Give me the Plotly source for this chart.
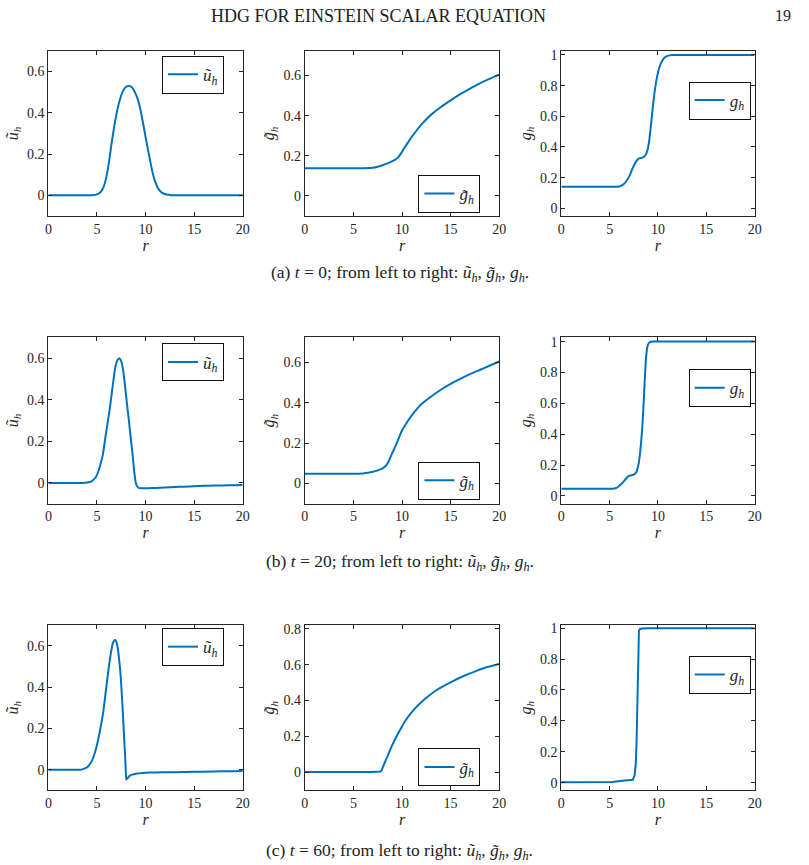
import plotly.graph_objects as go

# ---------------- data ----------------
# (a) t = 0
r_u_t0 = [0, 1, 2, 3, 3.5, 4, 4.5, 5, 5.3, 5.6, 5.9, 6.2, 6.5, 6.8, 7.1, 7.4, 7.7, 8.0, 8.3, 8.6, 8.9,
          9.2, 9.5, 9.8, 10.1, 10.4, 10.7, 11.0, 11.3, 11.6, 11.9, 12.2, 12.6, 13, 13.5, 14, 15, 16,
          17, 18, 19, 20]
u_t0 = [0, 0, 0, 0, 0, 0, 0.001, 0.005, 0.013, 0.032, 0.075, 0.15, 0.25, 0.34, 0.415, 0.47, 0.507,
        0.526, 0.53, 0.524, 0.5, 0.465, 0.41, 0.335, 0.258, 0.185, 0.115, 0.065, 0.033, 0.016, 0.008,
        0.004, 0.001, 0, 0, 0, 0, 0, 0, 0, 0, 0]

r_gt_t0 = [0, 2, 4, 6, 7, 7.5, 8, 8.5, 9, 9.3, 9.6, 9.9, 10.2, 10.5, 11, 11.5, 12, 12.5, 13, 14, 15,
           16, 17, 18, 19, 20]
gt_t0 = [0.138, 0.138, 0.138, 0.138, 0.14, 0.145, 0.153, 0.162, 0.173, 0.181, 0.192, 0.212, 0.236,
         0.258, 0.294, 0.326, 0.356, 0.382, 0.405, 0.443, 0.476, 0.507, 0.535, 0.561, 0.583, 0.604]

r_g_t0 = [0, 2, 4, 5, 5.8, 6.1, 6.4, 6.7, 7.0, 7.3, 7.6, 7.9, 8.1, 8.4, 8.7, 8.9, 9.1, 9.3, 9.5, 9.7,
          9.9, 10.1, 10.3, 10.5, 10.7, 11.0, 11.5, 12, 14, 16, 18, 20]
g_t0 = [0.14, 0.14, 0.14, 0.14, 0.141, 0.145, 0.155, 0.175, 0.205, 0.25, 0.29, 0.318, 0.327, 0.331,
        0.345, 0.375, 0.445, 0.56, 0.68, 0.78, 0.855, 0.91, 0.945, 0.968, 0.983, 0.994, 0.999, 1.0,
        1.0, 1.0, 1.0, 1.0]

# (b) t = 20
r_u_t20 = [0, 1, 2, 3, 3.5, 4.0, 4.4, 4.7, 4.9, 5.1, 5.3, 5.6, 5.9, 6.1, 6.3, 6.6, 6.9, 7.1, 7.3,
           7.5, 7.7, 7.95, 8.1, 8.3, 8.5, 8.65, 8.8, 8.9, 9.0, 9.15, 9.3, 9.5, 10, 11, 12, 13, 14,
           15, 16, 17, 18, 19, 20]
u_t20 = [0, 0, 0, 0, 0, 0.002, 0.006, 0.018, 0.03, 0.05, 0.08, 0.135, 0.23, 0.29, 0.35, 0.46, 0.56,
         0.59, 0.6, 0.585, 0.54, 0.44, 0.375, 0.295, 0.205, 0.145, 0.07, 0.03, 0.0, -0.017, -0.024,
         -0.026, -0.026, -0.024, -0.022, -0.02, -0.018, -0.016, -0.014, -0.013, -0.012, -0.011, -0.01]

r_gt_t20 = [0, 2, 4, 5, 6, 6.5, 7, 7.5, 8, 8.3, 8.6, 8.9, 9.2, 9.5, 10, 10.5, 11, 11.5, 12, 13, 14,
            15, 16, 17, 18, 19, 20]
gt_t20 = [0.048, 0.048, 0.048, 0.048, 0.05, 0.053, 0.058, 0.065, 0.075, 0.085, 0.108, 0.14, 0.172,
          0.205, 0.262, 0.302, 0.337, 0.367, 0.393, 0.431, 0.464, 0.493, 0.518, 0.541, 0.562, 0.583,
          0.604]

r_g_t20 = [0, 2, 4, 5.3, 5.6, 5.9, 6.2, 6.5, 6.8, 7.0, 7.3, 7.6, 7.8, 8.0, 8.15, 8.3, 8.45, 8.6,
           8.75, 8.9, 9.05, 9.25, 9.5, 10, 12, 14, 16, 18, 20]
g_t20 = [0.047, 0.047, 0.047, 0.047, 0.05, 0.06, 0.077, 0.098, 0.12, 0.13, 0.134, 0.142, 0.16, 0.21,
         0.28, 0.38, 0.52, 0.71, 0.885, 0.965, 0.99, 0.999, 1.0, 1.0, 1.0, 1.0, 1.0, 1.0, 1.0]

# (c) t = 60
r_u_t60 = [0, 1, 2, 3, 3.3, 3.7, 4.0, 4.25, 4.5, 4.75, 5.0, 5.25, 5.6, 5.9, 6.2, 6.45, 6.65, 6.85,
           7.0, 7.15, 7.3, 7.45, 7.6, 7.7, 7.8, 7.9, 7.97, 8.02, 8.1, 8.25, 8.45, 8.65, 9.0, 9.65,
           10.5, 11.7, 13, 15, 17, 19, 20]
u_t60 = [0, 0, 0, 0, 0, 0.005, 0.012, 0.026, 0.045, 0.077, 0.12, 0.174, 0.265, 0.375, 0.49, 0.57,
         0.615, 0.629, 0.618, 0.585, 0.525, 0.447, 0.33, 0.24, 0.15, 0.06, -0.01, -0.048, -0.044,
         -0.035, -0.028, -0.024, -0.02, -0.016, -0.014, -0.013, -0.012, -0.01, -0.009, -0.007, -0.006]

r_gt_t60 = [0, 2, 4, 6, 7.5, 7.85, 8.0, 8.2, 8.46, 8.7, 8.97, 9.3, 9.65, 10, 10.32, 10.8, 11.34, 12,
            12.7, 13.5, 14.4, 15.4, 16.4, 17.4, 18.4, 19.2, 20]
gt_t60 = [0.002, 0.002, 0.002, 0.002, 0.003, 0.006, 0.025, 0.052, 0.084, 0.115, 0.149, 0.186, 0.222,
          0.256, 0.286, 0.322, 0.356, 0.392, 0.424, 0.456, 0.484, 0.512, 0.538, 0.56, 0.58, 0.592,
          0.604]

r_g_t60 = [0, 4, 5.3, 6.3, 7.0, 7.4, 7.58, 7.7, 7.78, 7.86, 7.93, 7.98, 8.03, 8.15, 8.33, 9, 20]
g_t60 = [0.002, 0.002, 0.004, 0.012, 0.015, 0.019, 0.047, 0.12, 0.25, 0.467, 0.79, 0.93, 0.983,
         0.995, 0.998, 1.0, 1.0]

x_ticks = [0, 5, 10, 15, 20]
y_ticks_u = [0, 0.2, 0.4, 0.6]
y_ticks_gt = [0, 0.2, 0.4, 0.6]
y_ticks_gt60 = [0, 0.2, 0.4, 0.6, 0.8]
y_ticks_g = [0, 0.2, 0.4, 0.6, 0.8, 1]

lab_u = "<i>ũ<sub>h</sub></i>"
lab_gt = "<i>g̃<sub>h</sub></i>"
lab_g = "<i>g<sub>h</sub></i>"

captions = [
    "(a) <i>t</i> = 0; from left to right: <i>ũ<sub>h</sub></i>, <i>g̃<sub>h</sub></i>, <i>g<sub>h</sub></i>.",
    "(b) <i>t</i> = 20; from left to right: <i>ũ<sub>h</sub></i>, <i>g̃<sub>h</sub></i>, <i>g<sub>h</sub></i>.",
    "(c) <i>t</i> = 60; from left to right: <i>ũ<sub>h</sub></i>, <i>g̃<sub>h</sub></i>, <i>g<sub>h</sub></i>.",
]

# ---------------- layout geometry ----------------
W, H = 809, 865
col_px = [(45, 242), (305, 502), (565, 761)]
row_px = [(47, 213), (335, 502), (624, 790)]

panels = [
    # row, col, r, values, label, yrange, yticks, smoothing
    (0, 0, r_u_t0, u_t0, lab_u, [-0.1, 0.7], y_ticks_u, 0.6),
    (0, 1, r_gt_t0, gt_t0, lab_gt, [-0.1, 0.723], y_ticks_gt, 0.6),
    (0, 2, r_g_t0, g_t0, lab_g, [-0.05, 1.027], y_ticks_g, 0.5),
    (1, 0, r_u_t20, u_t20, lab_u, [-0.1, 0.7], y_ticks_u, 0.6),
    (1, 1, r_gt_t20, gt_t20, lab_gt, [-0.1, 0.723], y_ticks_gt, 0.6),
    (1, 2, r_g_t20, g_t20, lab_g, [-0.05, 1.027], y_ticks_g, 0.4),
    (2, 0, r_u_t60, u_t60, lab_u, [-0.1, 0.7], y_ticks_u, 0.5),
    (2, 1, r_gt_t60, gt_t60, lab_gt, [-0.1, 0.82], y_ticks_gt60, 0.5),
    (2, 2, r_g_t60, g_t60, lab_g, [-0.05, 1.02], y_ticks_g, 0.0),
]

legend_pos = {
    (0, 0): (223, 52, "right", "top"), (1, 0): (223, 341, "right", "top"), (2, 0): (223, 627, "right", "top"),
    (0, 1): (483, 210, "right", "bottom"), (1, 1): (483, 498, "right", "bottom"), (2, 1): (483, 786, "right", "bottom"),
    (0, 2): (757, 97, "right", "middle"), (1, 2): (757, 386, "right", "middle"), (2, 2): (757, 674, "right", "middle"),
}

FONT = "Liberation Serif, DejaVu Serif, serif"
AX = "#262626"
BLUE = "#0072BD"

fig = go.Figure()
layout = dict(
    width=W, height=H, autosize=False,
    margin=dict(l=0, r=0, t=0, b=0),
    paper_bgcolor="white", plot_bgcolor="white",
    font=dict(family=FONT, color=AX, size=14),
    annotations=[],
)

for i, (row, col, rr, vv, lab, yr, yt, sm) in enumerate(panels):
    n = i + 1
    sfx = "" if n == 1 else str(n)
    lg = "legend" if n == 1 else f"legend{n}"
    line = dict(color=BLUE, width=2)
    if sm > 0:
        line.update(shape="spline", smoothing=sm)
    fig.add_trace(go.Scatter(
        x=rr, y=vv, mode="lines", name=lab, line=line,
        xaxis=f"x{sfx}", yaxis=f"y{sfx}", legend=lg, showlegend=True,
    ))
    x0, x1 = col_px[col]
    y0, y1 = row_px[row]
    common = dict(showline=True, linecolor=AX, linewidth=1, mirror="ticks", ticks="inside",
                  ticklen=4, tickcolor=AX, showgrid=False, zeroline=False,
                  tickfont=dict(family=FONT, size=14, color=AX))
    layout[f"xaxis{sfx}"] = dict(domain=[x0 / W, x1 / W], anchor=f"y{sfx}", range=[0, 20],
                                 tickvals=x_ticks,
                                 title=dict(text="<i>r</i>", font=dict(family=FONT, size=16, color=AX),
                                            standoff=2),
                                 **common)
    layout[f"yaxis{sfx}"] = dict(domain=[1 - y1 / H, 1 - y0 / H], anchor=f"x{sfx}", range=yr,
                                 tickvals=yt,
                                 title=dict(text=lab, font=dict(family=FONT, size=16, color=AX),
                                            standoff=4),
                                 **common)
    lx, ly, xa, ya = legend_pos[(row, col)]
    layout[lg] = dict(x=lx / W, y=1 - ly / H, xanchor=xa, yanchor=ya, xref="paper", yref="paper",
                      bgcolor="white", bordercolor="#111111", borderwidth=1,
                      font=dict(family=FONT, size=17, color=AX), itemwidth=30)

ann = layout["annotations"]
ann.append(dict(text="HDG FOR EINSTEIN SCALAR EQUATION", x=380 / W, y=1 - 12 / H, xref="paper", yref="paper",
                showarrow=False, xanchor="center", yanchor="middle",
                font=dict(family=FONT, size=18, color="#222222")))
ann.append(dict(text="19", x=790 / W, y=1 - 12 / H, xref="paper", yref="paper",
                showarrow=False, xanchor="center", yanchor="middle",
                font=dict(family=FONT, size=16, color="#222222")))
for k, cy in enumerate([271, 561, 851]):
    ann.append(dict(text=captions[k], x=401 / W, y=1 - cy / H, xref="paper", yref="paper",
                    showarrow=False, xanchor="center", yanchor="middle",
                    font=dict(family=FONT, size=17.5, color="#222222")))

fig.update_layout(**layout)
fig.write_html("out.html")
